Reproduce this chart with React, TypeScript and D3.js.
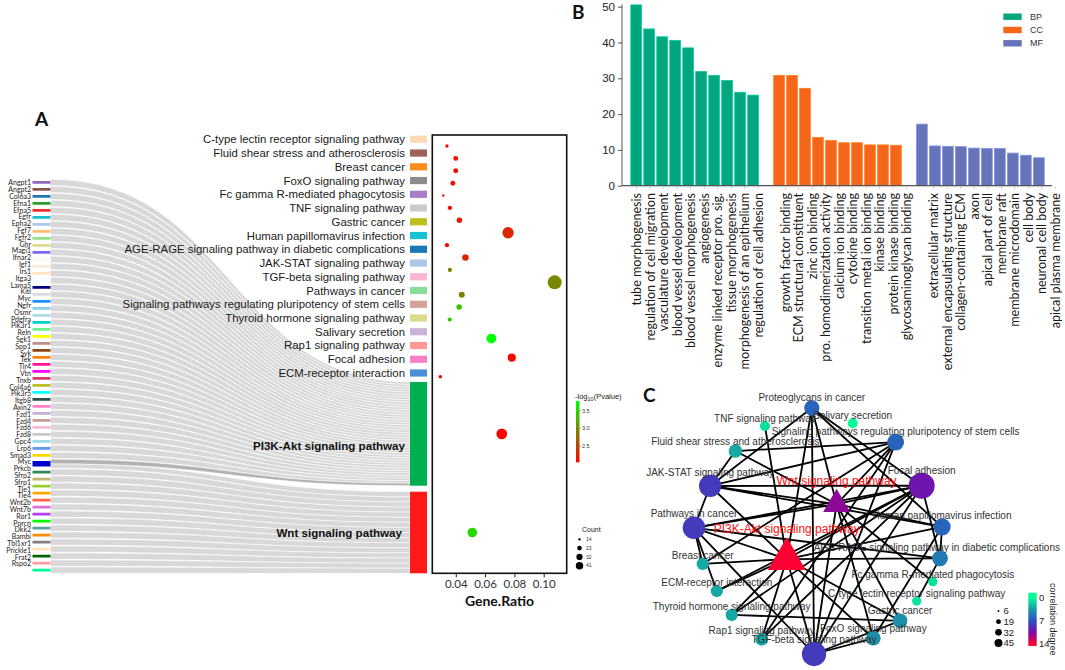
import { useEffect, useRef } from "react";
import * as d3 from "d3";

const ARIAL = "'Liberation Sans', Arial, sans-serif";
const SANS = "Lato, 'Open Sans', sans-serif";

// ---------- A: genes -> pathways ----------
const geneLabels = [
  "Angpt1", "Angpt2", "Col6a3", "Efna1", "Efna5", "Egfr", "Epha2", "Fgf7", "Fgfr2", "Ghr",
  "Magi1", "Ifnar2", "Igf1", "Irs1", "Itga3", "Lama5", "Kitl", "Myc", "Ngfr", "Osmr",
  "Pdgfra", "Pik3r1", "Reln", "Sgk1", "Spp1", "Syk", "Tek", "Tlr4", "Vtn", "Tnxb",
  "Col4a6", "Pik3r5", "Itgb8", "Axin2", "Fzd1", "Fzd4", "Fzd6", "Fzd8", "Gpc4", "Lrp6",
  "Smad3", "Myc", "Prkcb", "Sfrp2", "Sfrp1", "Tle1", "Tle4", "Wnt2b", "Wnt7b", "Ror1",
  "Porcn", "Dkk2", "Bambi", "Tbl1xr1", "Prickle1", "Frat2", "Rspo2",
];

const pi3kGenes = [
  "Angpt1", "Angpt2", "Col6a3", "Efna1", "Efna5", "Egfr", "Epha2", "Fgf7", "Fgfr2", "Ghr",
  "Magi1", "Ifnar2", "Igf1", "Irs1", "Itga3", "Lama5", "Kitl", "Ngfr", "Osmr", "Pdgfra",
  "Pik3r1", "Reln", "Sgk1", "Spp1", "Syk", "Tek", "Tlr4", "Vtn", "Tnxb", "Col4a6",
  "Pik3r5", "Itgb8", "Axin2", "Fzd1", "Fzd4", "Fzd6", "Fzd8", "Gpc4", "Lrp6", "Smad3", "Myc",
];

const wntGenes = [
  "Myc", "Prkcb", "Sfrp2", "Sfrp1", "Tle1", "Tle4", "Wnt2b", "Wnt7b", "Ror1", "Porcn",
  "Dkk2", "Bambi", "Tbl1xr1", "Prickle1", "Frat2", "Rspo2",
];

const geneColors = [
  "#9467bd", "#8c564b", "#1f77b4", "#2ca02c", "#ee2c2c", "#17becf", "#aec7e8", "#ffbb78", "#98df8a", "#dbdb8d",
  "#7b68ee", "#fffaf0", "#faebd7", "#ffe4c4", "#f0ffff", "#000080", "#dcdcdc", "#1e90ff", "#87ceeb", "#add8e6",
  "#00ced1", "#6ef08f", "#ffff00", "#bc8f8f", "#8b4513", "#ff7f0e", "#ff1493", "#ff00ff", "#d63a66", "#bcbd22",
  "#00ffff", "#2f4f4f", "#ff80c8", "#c5b0d5", "#c49c94", "#f7b6d2", "#c7c7c7", "#9edae5", "#6495ed", "#ffd700",
  "#0000cd", "#2e8b57", "#bdb76b", "#9acd32", "#ffa500", "#ff6347", "#da70d6", "#b23cf0", "#00ff00", "#5f9ea0",
  "#ff8c00", "#808080", "#ffe4b5", "#006400", "#ff9c9c", "#00fa9a",
];

const sidePathways = [
  "C-type lectin receptor signaling pathway",
  "Fluid shear stress and atherosclerosis",
  "Breast cancer",
  "FoxO signaling pathway",
  "Fc gamma R-mediated phagocytosis",
  "TNF signaling pathway",
  "Gastric cancer",
  "Human papillomavirus infection",
  "AGE-RAGE signaling pathway in diabetic complications",
  "JAK-STAT signaling pathway",
  "TGF-beta signaling pathway",
  "Pathways in cancer",
  "Signaling pathways regulating pluripotency of stem cells",
  "Thyroid hormone signaling pathway",
  "Salivary secretion",
  "Rap1 signaling pathway",
  "Focal adhesion",
  "ECM-receptor interaction",
];
const sideColors = [
  "#fdd9b5", "#9c6157", "#ff8c1a", "#8c8c8c", "#a77cc8", "#cccccc", "#bfbf22", "#17c3d2", "#1a79b6",
  "#aec7e8", "#f7b6d2", "#88dd99", "#d4a09a", "#dbdb8d", "#c9b3d8", "#ff9896", "#f780c8", "#4a90d9",
];
const mainPathways = ["PI3K-Akt signaling pathway", "Wnt signaling pathway"];
const mainColors = ["#00b050", "#ff1a1a"];

// ---------- A: dot plot (18 side pathways, then PI3K-Akt, Wnt) ----------
const dotGeneRatio = [
  0.034, 0.040, 0.040, 0.038, 0.0315, 0.036, 0.0425, 0.0757, 0.034, 0.0466,
  0.036, 0.1075, 0.0441, 0.0423, 0.0359, 0.0643, 0.0782, 0.0295, 0.0714, 0.0513,
];
const dotCount = [13, 15, 15, 15, 12, 14, 16, 32, 14, 18, 14, 43, 17, 16, 14, 27, 22, 13, 30, 26];
const dotLogP = [
  2.1, 2.15, 2.15, 2.15, 2.1, 2.1, 2.2, 2.3, 2.1, 2.3,
  2.9, 2.95, 2.9, 3.35, 3.4, 3.77, 2.1, 2.1, 2.1, 3.5,
];
const ratioTicks = [0.04, 0.06, 0.08, 0.1];
const logPTicks = [2.5, 3.0, 3.5];
const countTicks = [14, 23, 32, 41];

// ---------- B: GO bars ----------
const bpTerms = [
  "tube morphogenesis", "regulation of cell migration", "vasculature development", "blood vessel development",
  "blood vessel morphogenesis", "angiogenesis", "enzyme linked receptor pro. sig.", "tissue morphogenesis",
  "morphogenesis of an epithelium", "regulation of cell adhesion",
];
const bpValues = [50.5, 43.8, 41.6, 40.6, 38.5, 31.9, 30.8, 29.4, 26.1, 25.3];
const ccTerms = [
  "growth factor binding", "ECM structural constituent", "zinc ion binding", "pro. homodimerization activity",
  "calcium ion binding", "cytokine binding", "transition metal ion binding", "kinase binding",
  "protein kinase binding", "glycosaminoglycan binding",
];
const ccValues = [30.8, 30.8, 27.2, 13.5, 12.6, 12.0, 12.0, 11.4, 11.4, 11.3];
const mfTerms = [
  "extracellular matrix", "external encapsulating structure", "collagen-containing ECM", "axon",
  "apical part of cell", "membrane raft", "membrane microdomain", "cell body", "neuronal cell body",
  "apical plasma membrane",
];
const mfValues = [17.2, 11.1, 11.0, 10.9, 10.5, 10.4, 10.4, 9.1, 8.5, 7.8];
const goGroups = ["BP", "CC", "MF"];
const goColors = ["#00a67e", "#f5661a", "#6673b8"];
const barTicks = [0, 10, 20, 30, 40, 50];

// ---------- C: pathway network ----------
const netIds = [
  "pi3k", "wnt", "prot", "tnf", "saliv", "plurip", "fluid", "jak", "focal", "pic", "hpv",
  "age", "breast", "fc", "ecm", "ctype", "thyroid", "gastric", "rap1", "foxo", "tgf",
];
const netLabels = [
  "PI3K-Akt signaling pathway", "Wnt signaling pathway", "Proteoglycans in cancer", "TNF signaling pathway",
  "Salivary secretion", "Signaling pathways regulating pluripotency of stem cells",
  "Fluid shear stress and atherosclerosis", "JAK-STAT signaling pathway", "Focal adhesion",
  "Pathways in cancer", "Human papillomavirus infection",
  "AGE-RAGE signaling pathway in diabetic complications", "Breast cancer",
  "Fc gamma R-mediated phagocytosis", "ECM-receptor interaction", "C-type lectin receptor signaling pathway",
  "Thyroid hormone signaling pathway", "Gastric cancer", "Rap1 signaling pathway", "FoxO signaling pathway",
  "TGF-beta signaling pathway",
];
// layout coordinates (0-100)
const netLayoutX = [37.4, 57.5, 47.5, 28.6, 64.0, 81.3, 16.7, 6.5, 91.8, 0, 100, 99.2, 3.5, 96.3, 9.2, 89.8, 15.2, 83.1, 27.3, 72.3, 48.4];
const netLayoutY = [61.4, 39.1, 0, 7.3, 6.2, 13.9, 17.5, 31.7, 31.6, 48.7, 48.3, 61.1, 63.4, 70.6, 74.4, 78.5, 84.1, 86.5, 94.0, 93.6, 100];
const netSize = [52, 28, 18, 10, 10, 21, 15, 34, 45, 35, 22, 19, 13, 9, 13, 9, 13, 17, 14, 17, 40];
const netHubs = ["pi3k", "wnt"];
const netEdges: [string, string][] = [
  ["pi3k", "prot"], ["pi3k", "tnf"], ["pi3k", "jak"], ["pi3k", "pic"], ["pi3k", "breast"], ["pi3k", "ecm"],
  ["pi3k", "thyroid"], ["pi3k", "rap1"], ["pi3k", "tgf"], ["pi3k", "foxo"], ["pi3k", "gastric"], ["pi3k", "age"],
  ["pi3k", "hpv"], ["pi3k", "focal"],
  ["wnt", "prot"], ["wnt", "plurip"], ["wnt", "focal"], ["wnt", "jak"], ["wnt", "pic"], ["wnt", "hpv"],
  ["wnt", "tgf"], ["wnt", "foxo"], ["wnt", "gastric"], ["wnt", "fluid"], ["wnt", "fc"],
  ["prot", "focal"], ["prot", "hpv"], ["prot", "tgf"], ["prot", "jak"],
  ["jak", "plurip"], ["jak", "focal"], ["jak", "hpv"], ["jak", "pic"], ["jak", "fluid"],
  ["pic", "focal"], ["pic", "breast"], ["pic", "ecm"], ["pic", "tgf"], ["pic", "age"],
  ["breast", "plurip"], ["ecm", "focal"], ["rap1", "focal"], ["rap1", "plurip"],
  ["tgf", "focal"], ["tgf", "plurip"], ["tgf", "foxo"], ["tgf", "gastric"],
  ["foxo", "hpv"], ["hpv", "age"], ["focal", "thyroid"], ["focal", "age"], ["plurip", "fluid"],
  ["thyroid", "gastric"], ["ctype", "age"],
];
const netSizeTicks = [6, 19, 32, 45];
const netDegreeTicks = [0, 7, 14];

type Sel = d3.Selection<SVGSVGElement, unknown, null, undefined>;

function drawSankey(svg: Sel) {
  const g = svg.append("g");
  const geneOrder = [...pi3kGenes, ...wntGenes.filter((d) => !pi3kGenes.includes(d))];
  const unit = 2.75;
  const gap = 4.25;
  const ext = gap / 2 - 0.45;
  let cursor = 181;
  const nodes = geneOrder.map((name, i) => {
    const targets: number[] = [];
    if (pi3kGenes.includes(name)) targets.push(0);
    if (wntGenes.includes(name)) targets.push(1);
    const y0 = cursor;
    const y1 = cursor + unit * targets.length;
    cursor = y1 + gap;
    return { name, color: geneColors[i], targets, y0, y1 };
  });
  const mains = [
    { genes: pi3kGenes, y0: 382, y1: 485.7 },
    { genes: wntGenes, y0: 491.7, y1: 573.3 },
  ];
  const x0 = 50.5;
  const x1 = 410;
  const xm = (x0 + x1) / 2;
  const links: { s0: number; s1: number; t0: number; t1: number; shared: boolean }[] = [];
  nodes.forEach((n) => {
    const h = (n.y1 - n.y0 + 2 * ext) / n.targets.length;
    n.targets.forEach((t, k) => {
      const m = mains[t];
      const th = (m.y1 - m.y0) / m.genes.length;
      const j = m.genes.indexOf(n.name);
      links.push({
        s0: n.y0 - ext + k * h,
        s1: n.y0 - ext + (k + 1) * h,
        t0: m.y0 + j * th,
        t1: m.y0 + (j + 1) * th,
        shared: n.targets.length > 1 && t === 0,
      });
    });
  });
  links.sort((a, b) => Number(a.shared) - Number(b.shared));
  const ribbon = (l: (typeof links)[number]) =>
    `M${x0},${l.s0}C${xm},${l.s0} ${xm},${l.t0} ${x1},${l.t0}L${x1},${l.t1}C${xm},${l.t1} ${xm},${l.s1} ${x0},${l.s1}Z`;
  g.selectAll("path.rib")
    .data(links)
    .join("path")
    .attr("d", ribbon)
    .attr("fill", (d) => (d.shared ? "#b2b2b2" : "#d8d8d8"))
    .attr("stroke", "#fff")
    .attr("stroke-width", 0.5);

  // gene bars
  g.selectAll("rect.gene")
    .data(nodes)
    .join("rect")
    .attr("x", 32.5)
    .attr("width", 18)
    .attr("y", (d) => d.y0)
    .attr("height", (d) => d.y1 - d.y0)
    .attr("fill", (d) => d.color);

  // gene labels
  const yLab = d3.scalePoint<number>().domain(d3.range(geneLabels.length)).range([183, 564]);
  g.selectAll("text.gene")
    .data(geneLabels)
    .join("text")
    .attr("x", 31)
    .attr("y", (_, i) => yLab(i)!)
    .attr("dy", "0.35em")
    .attr("text-anchor", "end")
    .attr("font-family", SANS)
    .attr("font-size", 7)
    .attr("fill", "#222")
    .text((d) => d);

  // side pathway boxes
  const ySide = d3.scalePoint<string>().domain(sidePathways).range([139.3, 373]);
  g.selectAll("rect.side")
    .data(sidePathways)
    .join("rect")
    .attr("x", 410)
    .attr("width", 17)
    .attr("y", (d) => ySide(d)! - 3.6)
    .attr("height", 7.2)
    .attr("fill", (_, i) => sideColors[i]);
  g.selectAll("text.side")
    .data(sidePathways)
    .join("text")
    .attr("x", 405)
    .attr("y", (d) => ySide(d)!)
    .attr("dy", "0.35em")
    .attr("text-anchor", "end")
    .attr("font-family", ARIAL)
    .attr("font-size", 11.4)
    .attr("fill", "#1a1a1a")
    .text((d) => d);

  // main pathway nodes
  g.selectAll("rect.main")
    .data(mains)
    .join("rect")
    .attr("x", 410)
    .attr("width", 17)
    .attr("y", (d) => d.y0)
    .attr("height", (d) => d.y1 - d.y0)
    .attr("fill", (_, i) => mainColors[i]);
  g.selectAll("text.main")
    .data(mains)
    .join("text")
    .attr("x", (_, i) => (i === 0 ? 405 : 402))
    .attr("y", (d, i) => (d.y0 + d.y1) / 2 + (i === 0 ? 12 : 0))
    .attr("dy", "0.35em")
    .attr("text-anchor", "end")
    .attr("font-family", ARIAL)
    .attr("font-weight", "bold")
    .attr("font-size", 11.6)
    .attr("fill", "#111")
    .text((_, i) => mainPathways[i]);

  svg.append("text").attr("x", 35).attr("y", 126).attr("font-family", SANS).attr("font-weight", "bold")
    .attr("font-size", 19).attr("fill", "#111").text("A");

  return { mains };
}

function drawDots(svg: Sel, mains: { y0: number; y1: number }[]) {
  const g = svg.append("g");
  const left = 432.3, right = 566.7, top = 135, bottom = 573.3;
  const x = d3.scaleLinear().domain([0.024, 0.1157]).range([left, right]);
  const rowY = d3.scaleLinear().domain([0, 14, 17]).range([146, 319.5, 376.7]);
  const color = d3.scaleLinear<string>().domain([2.05, 2.9, 3.77]).range(["#ff0000", "#7f7f00", "#00ff00"]).interpolate(d3.interpolateRgb);
  const size = d3.scaleRadial().domain([12, 45]).range([1.2, 7.2]);
  const n = sidePathways.length;
  const dots = dotGeneRatio.map((r, i) => ({
    r,
    count: dotCount[i],
    p: dotLogP[i],
    y: i < n ? rowY(i) : (mains[i - n].y0 + mains[i - n].y1) / 2,
  }));

  g.append("rect").attr("x", left).attr("y", top).attr("width", right - left).attr("height", bottom - top)
    .attr("fill", "none").attr("stroke", "#111").attr("stroke-width", 1.6);

  g.selectAll("circle").data(dots).join("circle")
    .attr("cx", (d) => x(d.r)).attr("cy", (d) => d.y).attr("r", (d) => size(d.count))
    .attr("fill", (d) => color(d.p));

  const ax = g.append("g").attr("transform", `translate(0,${bottom})`)
    .call(d3.axisBottom(x).tickValues(ratioTicks).tickFormat(d3.format(".2f")).tickSize(4).tickSizeOuter(0));
  ax.select(".domain").remove();
  ax.selectAll("line").attr("stroke", "#222");
  ax.selectAll("text").attr("font-family", SANS).attr("font-size", 11.5).attr("fill", "#333");

  g.append("text").attr("x", (left + right) / 2).attr("y", 606).attr("text-anchor", "middle")
    .attr("font-family", SANS).attr("font-weight", "bold").attr("font-size", 14).attr("fill", "#111").text("Gene.Ratio");

  // colour legend
  const cb = d3.scaleLinear().domain([2.05, 3.77]).range([462.3, 401]);
  const defs = svg.append("defs");
  const grad = defs.append("linearGradient").attr("id", "pgrad").attr("x1", 0).attr("y1", 1).attr("x2", 0).attr("y2", 0);
  d3.range(0, 1.01, 0.1).forEach((t) => {
    grad.append("stop").attr("offset", t).attr("stop-color", color(2.05 + t * (3.77 - 2.05)));
  });
  g.append("rect").attr("x", 576).attr("y", 401).attr("width", 3.5).attr("height", 61.3).attr("fill", "url(#pgrad)");
  const lt = g.append("text").attr("x", 575).attr("y", 399).attr("font-family", ARIAL).attr("font-size", 7.5).attr("fill", "#222");
  lt.append("tspan").text("-log");
  lt.append("tspan").attr("font-size", 5.5).attr("dy", 1.5).text("10");
  lt.append("tspan").attr("dy", -1.5).text("(Pvalue)");
  logPTicks.forEach((v) => {
    g.append("line").attr("x1", 579.5).attr("x2", 581).attr("y1", cb(v)).attr("y2", cb(v)).attr("stroke", "#444").attr("stroke-width", 0.5);
    g.append("text").attr("x", 582).attr("y", cb(v)).attr("dy", "0.35em").attr("font-family", ARIAL)
      .attr("font-size", 5.5).attr("fill", "#333").text(d3.format(".1f")(v));
  });

  // count legend
  const cy = d3.scalePoint<number>().domain(countTicks).range([539.3, 565.7]);
  g.append("text").attr("x", 582).attr("y", 532).attr("font-family", ARIAL).attr("font-size", 7).attr("fill", "#222").text("Count");
  countTicks.forEach((v) => {
    g.append("circle").attr("cx", 579.5).attr("cy", cy(v)!).attr("r", size(v) * 0.55).attr("fill", "#000");
    g.append("text").attr("x", 586).attr("y", cy(v)!).attr("dy", "0.35em").attr("font-family", ARIAL)
      .attr("font-size", 5).attr("fill", "#333").text(v);
  });
}

function drawBars(svg: Sel) {
  const g = svg.append("g");
  const groups = [
    { terms: bpTerms, values: bpValues },
    { terms: ccTerms, values: ccValues },
    { terms: mfTerms, values: mfValues },
  ];
  const slots: string[] = [];
  const bars: { key: string; term: string; value: number; gi: number }[] = [];
  groups.forEach((grp, gi) => {
    if (gi > 0) slots.push(`gap${gi}`);
    grp.terms.forEach((t, i) => {
      const key = `${gi}-${t}`;
      slots.push(key);
      bars.push({ key, term: t, value: grp.values[i], gi });
    });
  });
  const x = d3.scaleBand().domain(slots).range([629.5, 1045.5]).paddingInner(0.18).paddingOuter(0.1);
  const xl = d3.scalePoint().domain(slots).range([636.7, 1055.2]);
  const y = d3.scaleLinear().domain([0, 50]).range([185.7, 6.7]);

  g.selectAll("rect.bar").data(bars).join("rect")
    .attr("x", (d) => x(d.key)!).attr("width", x.bandwidth())
    .attr("y", (d) => y(d.value)).attr("height", (d) => y(0) - y(d.value))
    .attr("fill", (d) => goColors[d.gi])
    .attr("stroke", (d) => d3.color(goColors[d.gi])!.brighter(0.6).formatHex())
    .attr("stroke-width", 0.8);

  const ay = g.append("g").attr("transform", "translate(622,0)")
    .call(d3.axisLeft(y).tickValues(barTicks).tickSize(4).tickSizeOuter(0));
  ay.select(".domain").attr("stroke", "#555").attr("d", `M0,${y(0)}V4.5`);
  ay.selectAll("line").attr("stroke", "#555");
  ay.selectAll("text").attr("font-family", ARIAL).attr("font-size", 11.5).attr("fill", "#222");

  g.append("line").attr("x1", 622).attr("x2", 1052).attr("y1", y(0)).attr("y2", y(0)).attr("stroke", "#555").attr("stroke-width", 1.2);

  g.selectAll("line.xt").data(bars).join("line")
    .attr("x1", (d) => xl(d.key)!).attr("x2", (d) => xl(d.key)!)
    .attr("y1", y(0) + 0.6).attr("y2", y(0) + 3.5)
    .attr("stroke", (d) => goColors[d.gi]).attr("stroke-opacity", 0.35);

  g.selectAll("text.term").data(bars).join("text")
    .attr("transform", (d) => `translate(${xl(d.key)},193) rotate(-90)`)
    .attr("text-anchor", "end").attr("dy", "0.35em")
    .attr("font-family", SANS).attr("font-size", 12.6).attr("fill", "#1a1a1a")
    .text((d) => d.term);

  const ly = d3.scalePoint().domain(goGroups).range([16.7, 43.3]);
  goGroups.forEach((k, i) => {
    g.append("rect").attr("x", 1003.3).attr("y", ly(k)! - 3.2).attr("width", 18.4).attr("height", 6.4).attr("fill", goColors[i]);
    g.append("text").attr("x", 1030).attr("y", ly(k)!).attr("dy", "0.35em").attr("font-family", ARIAL)
      .attr("font-size", 9).attr("fill", "#333").text(k);
  });

  svg.append("text").attr("x", 572).attr("y", 19).attr("font-family", SANS).attr("font-weight", "bold")
    .attr("font-size", 19).attr("fill", "#111").text("B");
}

function drawNetwork(svg: Sel) {
  const g = svg.append("g");
  const x = d3.scaleLinear().domain([0, 100]).range([694, 942]);
  const y = d3.scaleLinear().domain([0, 100]).range([408, 654]);
  const r = d3.scaleRadial().domain([6, 45]).range([3, 13]);
  const degColor = d3.scaleLinear<string>().domain([0, 3.5, 7, 10.5, 14])
    .range(["#00ff99", "#1a9aa6", "#2f4fc4", "#7a0aa8", "#ff0033"]);

  const degree = new Map<string, number>(netIds.map((id) => [id, 0]));
  netEdges.forEach(([a, b]) => {
    degree.set(a, degree.get(a)! + 1);
    degree.set(b, degree.get(b)! + 1);
  });
  const nodes = netIds.map((id, i) => ({
    id,
    label: netLabels[i],
    x: x(netLayoutX[i]),
    y: y(netLayoutY[i]),
    size: netSize[i],
    hub: netHubs.includes(id),
    deg: degree.get(id)!,
  }));
  const byId = new Map(nodes.map((n) => [n.id, n]));

  g.selectAll("line.edge").data(netEdges).join("line")
    .attr("x1", (d) => byId.get(d[0])!.x).attr("y1", (d) => byId.get(d[0])!.y)
    .attr("x2", (d) => byId.get(d[1])!.x).attr("y2", (d) => byId.get(d[1])!.y)
    .attr("stroke", "#000").attr("stroke-width", 1.8);

  const tri = d3.symbol().type(d3.symbolTriangle);
  nodes.forEach((n) => {
    const rr = r(n.size);
    if (n.hub) {
      g.append("path").attr("d", tri.size(Math.PI * rr * rr)()!).attr("transform", `translate(${n.x},${n.y})`)
        .attr("fill", degColor(n.deg));
    } else {
      g.append("circle").attr("cx", n.x).attr("cy", n.y).attr("r", rr).attr("fill", degColor(n.deg));
    }
  });

  nodes.forEach((n) => {
    const rr = r(n.size);
    const area = Math.PI * rr * rr;
    const apex = n.hub ? n.y - 2 * Math.sqrt(area / (Math.sqrt(3) * 3)) - 4 : n.y - rr + 1;
    const t = g.append("text").attr("x", n.x).attr("y", apex).attr("text-anchor", "middle")
      .attr("font-family", ARIAL).attr("font-size", n.hub ? 12 : 10)
      .attr("fill", n.hub ? "#ff1010" : "#333").text(n.label);
    const w = (t.node() as SVGTextElement).getComputedTextLength();
    if (n.x + w / 2 > 1060) t.attr("x", 1060 - w / 2);
  });

  // legends
  const sy = d3.scalePoint<number>().domain(netSizeTicks).range([611, 643]);
  netSizeTicks.forEach((v) => {
    g.append("circle").attr("cx", 998.5).attr("cy", sy(v)!).attr("r", r(v) * 0.31).attr("fill", "#000");
    g.append("text").attr("x", 1003.5).attr("y", sy(v)!).attr("dy", "0.35em").attr("font-family", ARIAL)
      .attr("font-size", 9.5).attr("fill", "#222").text(v);
  });
  const cy = d3.scaleLinear().domain([0, 14]).range([597.5, 644]);
  const barTop = 592.7, barBottom = 646;
  const grad = svg.append("defs").append("linearGradient").attr("id", "dgrad").attr("x1", 0).attr("y1", 0).attr("x2", 0).attr("y2", 1);
  d3.range(0, 1.001, 0.05).forEach((t) => {
    const v = Math.max(0, Math.min(14, cy.invert(barTop + t * (barBottom - barTop))));
    grad.append("stop").attr("offset", t).attr("stop-color", degColor(v));
  });
  g.append("rect").attr("x", 1028.3).attr("y", barTop).attr("width", 8.4).attr("height", barBottom - barTop).attr("fill", "url(#dgrad)");
  netDegreeTicks.forEach((v) => {
    g.append("text").attr("x", 1039).attr("y", cy(v)).attr("dy", "0.35em").attr("font-family", ARIAL)
      .attr("font-size", 9.5).attr("fill", "#222").text(v);
  });
  g.append("text").attr("transform", `translate(1050,${(barTop + barBottom) / 2}) rotate(90)`)
    .attr("text-anchor", "middle").attr("font-family", ARIAL).attr("font-size", 9).attr("fill", "#222")
    .text("correlation degree");

  svg.append("text").attr("x", 643).attr("y", 402).attr("font-family", SANS).attr("font-weight", "bold")
    .attr("font-size", 19).attr("fill", "#111").text("C");
}

export default function App() {
  const ref = useRef<SVGSVGElement>(null);

  useEffect(() => {
    if (!ref.current) return;
    const svg = d3.select(ref.current) as Sel;
    svg.selectAll("*").remove();
    const { mains } = drawSankey(svg);
    drawDots(svg, mains);
    drawBars(svg);
    drawNetwork(svg);
  }, []);

  return (
    <svg
      ref={ref}
      width={1065}
      height={670}
      style={{ position: "absolute", left: 0, top: 0, background: "#fff" }}
    />
  );
}
